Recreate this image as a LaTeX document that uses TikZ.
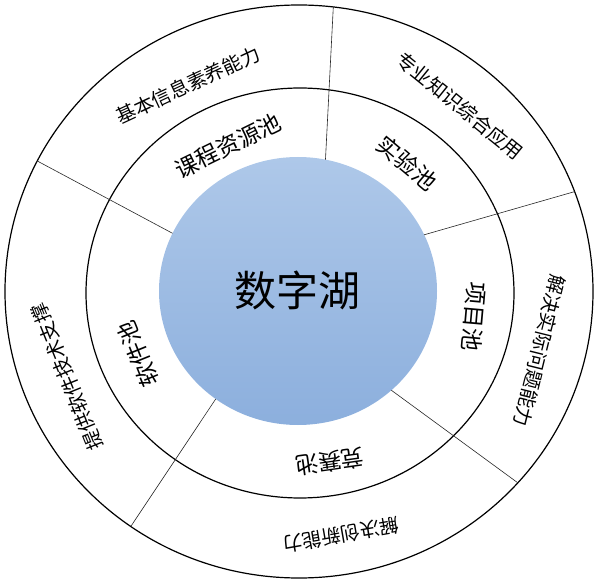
\documentclass[tikz,border=0pt]{standalone}
\usepackage{fontspec}
\newfontfamily\cjk{Noto Sans CJK SC}
\definecolor{lakeTop}{RGB}{174,200,233}
\definecolor{lakeBot}{RGB}{140,175,221}
\tikzset{
  ring/.style={draw=black, line width=1.2pt},
  divider/.style={draw=black!85, line width=0.6pt},
  pooltext/.style={font=\fontsize{23}{23}\selectfont\cjk, inner sep=0pt},
  outertext/.style={font=\fontsize{19.5}{19.5}\selectfont\cjk, inner sep=0pt},
  centertext/.style={font=\fontsize{42}{42}\selectfont\cjk, inner sep=0pt}
}
\begin{document}
\begin{tikzpicture}[x=1pt,y=-1pt]
\useasboundingbox (0,0) rectangle (600,585);
% outer and middle rings
\draw[ring] (299,291.5) ellipse [x radius=294, y radius=286.5];
\draw[ring] (300,293) ellipse [x radius=214, y radius=205];
% lake
\shade[top color=lakeTop, bottom color=lakeBot] (298,291) ellipse [x radius=139, y radius=134];
% divider end points
\foreach \n/\to/\ti in {1/83.3/78.6, 2/152.9/154.5, 3/20.4/24.8, 4/-41.9/-47.8, 5/-124.9/-126.3}{
  \coordinate (o\n) at ({299+294*cos(\to)},{291.5-286.5*sin(\to)});
  \coordinate (i\n) at ({298+139*cos(\ti)},{291-134*sin(\ti)});
}
\draw[divider] (i1) -- (o1);
\draw[divider] (i2) -- (o2);
\draw[divider] (i3) -- (o3);
\draw[divider] (i4) -- (o4);
\draw[divider] (i5) -- (o5);
% center
\node[centertext] (lake) at (297,290) {数字湖};
% pools
\node[pooltext, rotate=26] (kc) at (228,146) {课程资源池};
\node[pooltext, rotate=-40] (sy) at (407,163) {实验池};
\node[pooltext, rotate=-95] (xm) at (474,317) {项目池};
\node[pooltext, rotate=188] (js) at (330,462) {竞赛池};
\node[pooltext, rotate=112] (rj) at (138,354) {软件池};
% abilities
\node[outertext, rotate=25] (a1) at (188,85) {基本信息素养能力};
\node[outertext, rotate=-39] (a2) at (460,106) {专业知识综合应用};
\node[outertext, rotate=-104] (a3) at (540,351) {解决实际问题能力};
\node[outertext, rotate=190] (a4) at (341,535) {解决创新能力};
\node[outertext, rotate=112] (a5) at (67,377) {提供软件技术支撑};
\end{tikzpicture}
\end{document}
